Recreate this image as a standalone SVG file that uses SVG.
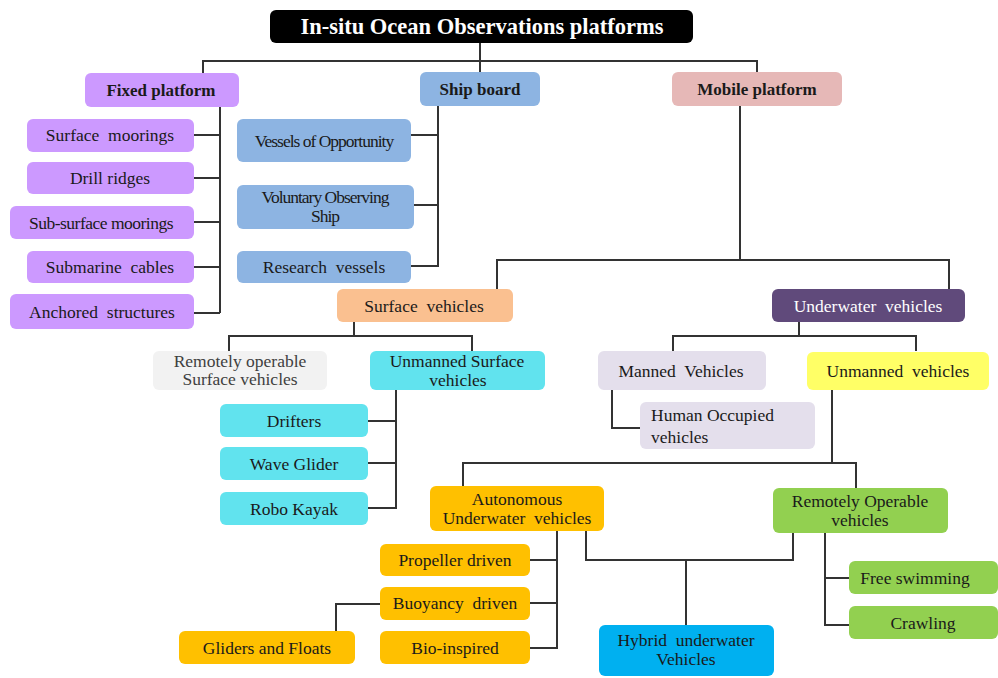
<svg xmlns="http://www.w3.org/2000/svg" width="998" height="678" viewBox="0 0 998 678">
<style>
.c{fill:none;stroke:#333;stroke-width:2}
text{font-family:"Liberation Serif","Times New Roman",serif;font-size:17.5px;fill:#1a1a1a;text-anchor:middle;white-space:pre}
.b{font-weight:bold;font-size:17px}
.n{letter-spacing:-1px}
.vi{fill:#CC99FF}.bl{fill:#8DB4E2}.pk{fill:#E6B8B7}.or{fill:#FAC090}.pu{fill:#604A7B}
.gr{fill:#F2F2F2}.cy{fill:#61E3EE}.lv{fill:#E4DFEC}.ye{fill:#FFFF66}.go{fill:#FFC000}
.gn{fill:#92D050}.sk{fill:#00B0F0}
</style>
<rect width="998" height="678" fill="#fff"/>
<g id="connectors">
<path class="c" d="M480,43V73M203,73V61H757V73"/>
<path class="c" d="M220,107V313M194,135H220M194,178H220M194,222H220M194,267H220M194,313H220"/>
<path class="c" d="M438,106V266H411M411,135H438M414,205H438"/>
<path class="c" d="M740,106V260M497,289V260H949V289"/>
<path class="c" d="M354,322V336M229,351V336H472V351"/>
<path class="c" d="M396,390V508H368M368,421H396M368,463H396"/>
<path class="c" d="M799,322V336M673,351V336H916V351"/>
<path class="c" d="M612,390V428H640"/>
<path class="c" d="M832,390V463M463,486V463H856V488"/>
<path class="c" d="M557,531V648H530M530,560H557M530,603H557"/>
<path class="c" d="M380,604H336V631"/>
<path class="c" d="M586,531V560H793V533M686,560V625"/>
<path class="c" d="M825,533V625H849M825,578H849"/>
</g>
<g id="title"><rect x="270" y="10" width="423" height="33" rx="6" fill="#000"/><text x="482" y="34" class="b" style="fill:#fff;font-size:22.5px">In-situ Ocean Observations platforms</text></g>
<g id="fixed"><rect class="vi" x="85" y="73" width="154" height="34" rx="6"/><text x="161" y="96" class="b">Fixed platform</text></g>
<g id="ship"><rect class="bl" x="420" y="72" width="120" height="34" rx="6"/><text x="480" y="95" class="b">Ship board</text></g>
<g id="mobile"><rect class="pk" x="672" y="72" width="170" height="34" rx="6"/><text x="757" y="95" class="b">Mobile platform</text></g>
<g id="surface-moorings"><rect class="vi" x="27" y="119" width="167" height="33" rx="6"/><text x="110" y="141">Surface  moorings</text></g>
<g id="drill"><rect class="vi" x="27" y="162" width="167" height="32" rx="6"/><text x="110" y="184">Drill ridges</text></g>
<g id="subsurface"><rect class="vi" x="10" y="206" width="184" height="33" rx="6"/><text x="101" y="229" style="letter-spacing:-0.5px">Sub-surface moorings</text></g>
<g id="cables"><rect class="vi" x="27" y="251" width="167" height="32" rx="6"/><text x="110" y="273">Submarine  cables</text></g>
<g id="anchored"><rect class="vi" x="10" y="294" width="184" height="35" rx="6"/><text x="102" y="318">Anchored  structures</text></g>
<g id="vessels"><rect class="bl" x="237" y="119" width="174" height="43" rx="6"/><text x="324" y="147" class="n">Vessels of Opportunity</text></g>
<g id="voluntary"><rect class="bl" x="237" y="185" width="177" height="44" rx="6"/><text x="325" y="203" class="n">Voluntary Observing</text><text x="325" y="222" class="n">Ship</text></g>
<g id="research"><rect class="bl" x="237" y="251" width="174" height="32" rx="6"/><text x="324" y="273">Research  vessels</text></g>
<g id="surface-vehicles"><rect class="or" x="337" y="289" width="176" height="33" rx="6"/><text x="424" y="312">Surface  vehicles</text></g>
<g id="underwater-vehicles"><rect class="pu" x="772" y="289" width="193" height="33" rx="6"/><text x="868" y="312" style="fill:#fff">Underwater  vehicles</text></g>
<g id="rosv"><rect class="gr" x="153" y="351" width="174" height="39" rx="6"/><text x="240" y="367" style="fill:#404040">Remotely operable</text><text x="240" y="385" style="fill:#404040">Surface vehicles</text></g>
<g id="usv"><rect class="cy" x="370" y="351" width="175" height="39" rx="6"/><text x="457" y="367">Unmanned Surface</text><text x="458" y="386">vehicles</text></g>
<g id="drifters"><rect class="cy" x="220" y="404" width="148" height="33" rx="6"/><text x="294" y="427">Drifters</text></g>
<g id="wave"><rect class="cy" x="220" y="447" width="148" height="33" rx="6"/><text x="294" y="470">Wave Glider</text></g>
<g id="kayak"><rect class="cy" x="220" y="492" width="148" height="33" rx="6"/><text x="294" y="515">Robo Kayak</text></g>
<g id="manned"><rect class="lv" x="598" y="351" width="168" height="39" rx="6"/><text x="681" y="377">Manned  Vehicles</text></g>
<g id="unmanned"><rect class="ye" x="807" y="352" width="182" height="38" rx="6"/><text x="898" y="377">Unmanned  vehicles</text></g>
<g id="human"><rect class="lv" x="640" y="402" width="175" height="47" rx="6"/><text x="651" y="421" style="text-anchor:start">Human Occupied</text><text x="651" y="443" style="text-anchor:start">vehicles</text></g>
<g id="auv"><rect class="go" x="430" y="486" width="174" height="45" rx="6"/><text x="517" y="505">Autonomous</text><text x="517" y="524">Underwater  vehicles</text></g>
<g id="rov"><rect class="gn" x="773" y="488" width="175" height="45" rx="6"/><text x="860" y="507">Remotely Operable</text><text x="860" y="526">vehicles</text></g>
<g id="propeller"><rect class="go" x="380" y="544" width="150" height="32" rx="6"/><text x="455" y="566">Propeller driven</text></g>
<g id="buoyancy"><rect class="go" x="380" y="587" width="150" height="33" rx="6"/><text x="455" y="609">Buoyancy  driven</text></g>
<g id="bio"><rect class="go" x="380" y="631" width="150" height="33" rx="6"/><text x="455" y="654">Bio-inspired</text></g>
<g id="gliders"><rect class="go" x="179" y="631" width="176" height="33" rx="6"/><text x="267" y="654">Gliders and Floats</text></g>
<g id="hybrid"><rect class="sk" x="599" y="625" width="175" height="51" rx="6"/><text x="686" y="646">Hybrid  underwater</text><text x="686" y="665">Vehicles</text></g>
<g id="free"><rect class="gn" x="849" y="561" width="149" height="33" rx="6"/><text x="915" y="584">Free swimming</text></g>
<g id="crawling"><rect class="gn" x="849" y="606" width="149" height="33" rx="6"/><text x="923" y="629">Crawling</text></g>
</svg>
